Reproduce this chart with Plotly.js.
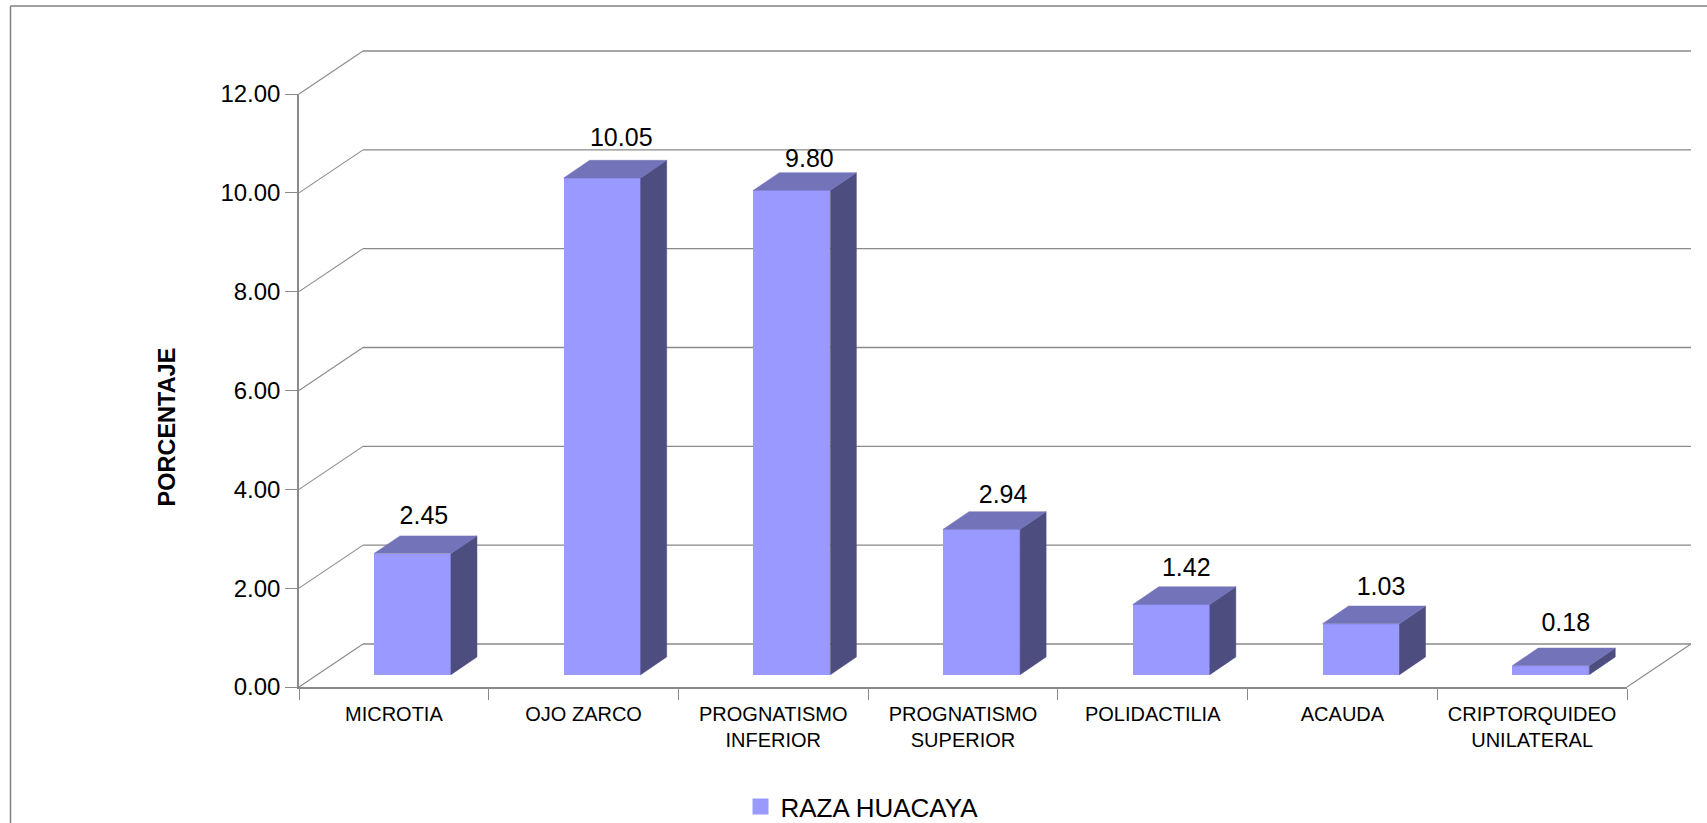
<!DOCTYPE html>
<html>
<head>
<meta charset="utf-8">
<script src="https://cdn.plot.ly/plotly-3.0.1.min.js"></script>
<style>html,body{margin:0;padding:0;background:#fff;overflow:hidden}</style>
</head>
<body>
<div id="chart" style="width:1707px;height:823px"></div>
<script>
// Congenital defects recorded in the Huacaya breed, in percent
const categories = ["MICROTIA", "OJO ZARCO", "PROGNATISMO<br>INFERIOR", "PROGNATISMO<br>SUPERIOR",
                    "POLIDACTILIA", "ACAUDA", "CRIPTORQUIDEO<br>UNILATERAL"];
const values = [2.45, 10.05, 9.80, 2.94, 1.42, 1.03, 0.18];
const yTicks = [0, 2, 4, 6, 8, 10, 12];
const seriesName = "RAZA HUACAYA";
const yTitle = "PORCENTAJE";

// Canvas and plot frame, in pixels
const W = 1707, H = 823;
const M = {l: 299, r: 80, t: 94, b: 136, autoexpand: false};
const plotW = W - M.l - M.r, plotH = H - M.t - M.b;
const yMax = 12;
const catPx = plotW / categories.length, unitPx = plotH / yMax;

// Pseudo-3D geometry: wall depth in pixels, bar placement in axis units
const wallDx = 64, wallDy = 43;
const barLeft = -0.105, barWidth = 0.406, barBase = 0.25;
const barDx = 26 / catPx, barDy = 17.7 / unitPx;

// Value label placement relative to each bar (pixels)
const labelAlongX = [50, 57.6, 56, 60, 53.5, 58.5, 53.5];
const labelAboveY = [18, 21, 12, 15, 17, 17, 23];

const FRONT = "#9999FF", SIDE = "#4D4D80", TOP = "#7373BA", LINE = "#8A8A8A";
const FONT = "Liberation Sans, Arial, sans-serif";

// Paper coordinates for pixel positions on the page
const paperX = px => (px - M.l) / plotW;
const paperY = py => 1 - (py - M.t) / plotH;

const hline = (x0, y0, x1, y1, color, width) => ({
  type: "line", xref: "paper", yref: "paper", layer: "below",
  x0: x0, y0: y0, x1: x1, y1: y1, line: {color: color, width: width}
});

// Walls and floor: one diagonal and one back line per tick
const pdx = wallDx / plotW, pdy = wallDy / plotH;
const shapes = [];
yTicks.forEach(t => {
  const p = t / yMax;
  shapes.push(hline(0, p, pdx, p + pdy, LINE, 1.1));
  shapes.push(hline(pdx, p + pdy, 1 + pdx, p + pdy, LINE, 1.3));
});
shapes.push(hline(1, 0, 1 + pdx, pdy, LINE, 1.1));
// Outer chart border
shapes.push(hline(paperX(10.5), paperY(6), paperX(10.5), paperY(H), "#808080", 1.5));
shapes.push(hline(paperX(10.5), paperY(6), paperX(W), paperY(6), "#808080", 1.5));

// Side and top faces of each bar, closed polygons separated by nulls
const sideX = [], sideY = [], topX = [], topY = [];
values.forEach((v, i) => {
  const x1 = i + barLeft + barWidth, x0 = i + barLeft;
  const yb = barBase, yt = barBase + v;
  sideX.push(x1, x1 + barDx, x1 + barDx, x1, x1, null);
  sideY.push(yb, yb + barDy, yt + barDy, yt, yb, null);
  topX.push(x0, x0 + barDx, x1 + barDx, x1, x0, null);
  topY.push(yt, yt + barDy, yt + barDy, yt, yt, null);
});

const face = (x, y, color) => ({
  type: "scatter", mode: "lines", x: x, y: y, xaxis: "x2", yaxis: "y",
  fill: "toself", fillcolor: color, line: {color: color, width: 0.5},
  showlegend: false, hoverinfo: "skip"
});

const traces = [
  {
    type: "bar", x: categories, y: values, base: barBase, offset: barLeft, width: barWidth,
    marker: {color: FRONT, line: {width: 0}}, showlegend: false, hoverinfo: "x+y"
  },
  face(sideX, sideY, SIDE),
  face(topX, topY, TOP),
  {
    type: "scatter", mode: "text", xaxis: "x2", yaxis: "y",
    x: values.map((v, i) => i + barLeft + labelAlongX[i] / catPx),
    y: values.map((v, i) => barBase + v + barDy + labelAboveY[i] / unitPx),
    text: values.map(v => v.toFixed(2)),
    textposition: "middle center",
    textfont: {family: FONT, size: 25, color: "#000"},
    cliponaxis: false, showlegend: false, hoverinfo: "skip"
  },
  {
    type: "scatter", mode: "markers", x: [null], y: [null], xaxis: "x2", yaxis: "y",
    name: seriesName, marker: {symbol: "square", size: 17, color: FRONT}
  }
];

const layout = {
  width: W, height: H, margin: M,
  paper_bgcolor: "#fff", plot_bgcolor: "rgba(0,0,0,0)",
  font: {family: FONT, color: "#000"},
  bargap: 0,
  shapes: shapes,
  annotations: [{
    // Vertical axis title, centred on its own position rather than on the plot
    text: "<b>" + yTitle + "</b>", textangle: -90, showarrow: false,
    xref: "paper", yref: "paper", x: paperX(166), y: paperY(427.5),
    xanchor: "center", yanchor: "middle",
    font: {family: FONT, size: 23.5, color: "#000"}
  }],
  xaxis: {
    type: "category", categoryorder: "array", categoryarray: categories,
    range: [-0.5, categories.length - 0.5], tickson: "boundaries",
    ticks: "outside", ticklen: 11, tickcolor: LINE, tickwidth: 1.3,
    ticklabelstandoff: 8,
    showline: true, linecolor: LINE, linewidth: 1.5, showgrid: false, zeroline: false,
    tickangle: 0, tickfont: {family: FONT, size: 20, color: "#000"}
  },
  xaxis2: {
    overlaying: "x", range: [-0.5, categories.length - 0.5],
    visible: false, showgrid: false, zeroline: false
  },
  yaxis: {
    range: [0, yMax], tickmode: "array", tickvals: yTicks,
    ticktext: yTicks.map(t => t.toFixed(2)),
    ticks: "outside", ticklen: 12, tickcolor: LINE, tickwidth: 1.3,
    showline: true, linecolor: LINE, linewidth: 1.5, showgrid: false, zeroline: false,
    tickfont: {family: FONT, size: 24, color: "#000"}
  },
  legend: {
    x: paperX(740.5), xanchor: "left", y: paperY(783), yanchor: "top",
    bgcolor: "rgba(0,0,0,0)", font: {family: FONT, size: 26, color: "#000"}
  },
  showlegend: true
};

Plotly.newPlot("chart", traces, layout, {displayModeBar: false, responsive: false});
</script>
</body>
</html>
